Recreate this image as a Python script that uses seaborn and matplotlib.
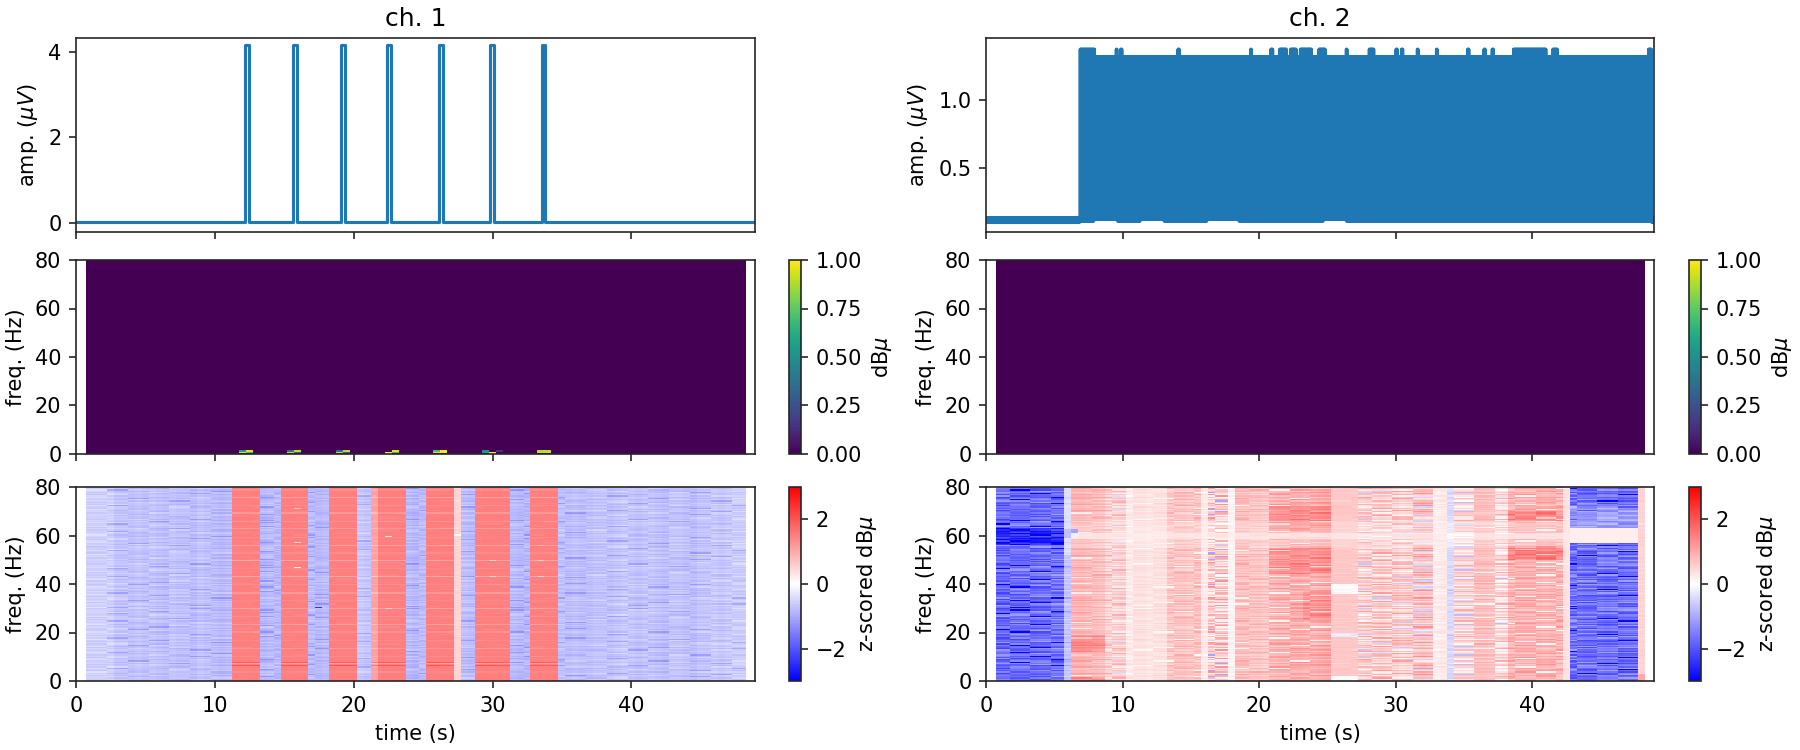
import numpy as np
import pandas as pd
import matplotlib
matplotlib.use("Agg")
import matplotlib.pyplot as plt
import seaborn as sns

channels = ["ch. 1", "ch. 2"]
x_ticks = [0, 10, 20, 30, 40]
freq_ticks = [0, 20, 40, 60, 80]
x_max = 48.9

# Spectrogram grid: 0.5 s bins from 0.73 s, 0.5 Hz rows from 0 to 80 Hz
bin_start = 0.73
bin_width = 0.5
n_bins = 95
row_hz = 0.5
n_rows = 160

# Channel 1 amplitude: pulse onsets and offsets in seconds
pulse_on = [12.17, 15.62, 19.11, 22.40, 26.17, 29.83, 33.54]
pulse_off = [12.43, 15.88, 19.37, 22.66, 26.43, 30.09, 33.80]
pulse_amp = 4.15
trace1_floor = 0.02

# Channel 2 amplitude: envelope and the stretches where it peaks higher
burst_start = 6.88
burst_end = 48.72
idle_low, idle_high = 0.095, 0.132
burst_low = 0.106
burst_high = 1.32
peak_high = 1.375
peak_on = [6.9, 9.52, 9.85, 14.05, 19.35, 20.85, 21.5, 22.3, 23.0, 24.35, 26.35,
           28.05, 30.0, 30.4, 31.55, 32.95, 35.25, 36.45, 37.05, 38.6, 41.5, 48.5]
peak_off = [7.96, 9.62, 9.95, 14.15, 19.45, 20.98, 22.0, 22.7, 23.85, 24.85, 26.45,
            28.4, 30.12, 30.52, 31.65, 33.05, 35.35, 36.55, 37.15, 41.0, 41.85, 48.72]
raised_on = [7.9, 11.3, 16.2, 24.7]
raised_off = [9.6, 13.0, 18.5, 26.4]
raised_low = 0.118

# Power in the low-frequency cells of channel 1 during each pulse
power_cols = [22, 22, 23, 23, 29, 29, 30, 30, 36, 36, 37, 37, 43, 43, 44, 44,
              50, 50, 51, 51, 57, 57, 58, 58, 59, 65, 65, 66, 66]
power_rows = [2, 1, 2, 1, 2, 1, 2, 1, 2, 1, 2, 1, 1, 0, 2, 1,
              2, 1, 2, 1, 2, 1, 1, 0, 2, 1, 2, 1, 2]
power_vals = [0.55, 0.95, 0.95, 0.7, 0.35, 0.9, 0.9, 0.3, 0.35, 0.9, 0.9, 0.3, 1.0, 1.0, 0.95, 0.7,
              0.7, 0.95, 1.0, 1.0, 0.5, 0.55, 1.0, 1.0, 0.15, 0.9, 0.9, 0.9, 0.9]

# Mean z-score of each time bin
ch1_level = [-0.55, -0.55, -0.55, -0.55, -0.7, -0.7, -0.75, -0.7, -0.75, -0.7, -0.75, -0.8,
             -0.7, -0.75, -0.75, -0.8, -0.7, -0.75, -0.8, -0.85, -0.8,
             1.5, 1.5, 1.5, 1.5, -0.85, -0.8, -0.85,
             1.5, 1.5, 1.5, 1.5, -0.8, -0.85, -0.8,
             1.5, 1.5, 1.5, 1.5, -0.65, -0.7,
             1.1, 1.5, 1.5, 1.5, 1.5, -0.8, -0.85, -0.8,
             1.5, 1.5, 1.5, 1.5, 0.5, -0.75, -0.8,
             1.5, 1.5, 1.5, 1.5, 1.5, -0.8, -0.85, -0.85,
             1.5, 1.5, 1.5, 1.5, -0.75, -0.8, -0.75, -0.8, -0.75, -0.7, -0.7, -0.75,
             -0.7, -0.65, -0.7, -0.75, -0.7, -0.7, -0.75, -0.8, -0.7, -0.7, -0.75, -0.8,
             -0.7, -0.7, -0.65, -0.7, -0.65, -0.6, -0.6]
ch1_noise = [0.3] * 21 + [0.06] * 4 + [0.3] * 3 + [0.06] * 4 + [0.3] * 3 + [0.06] * 4 + [0.28] * 2 \
    + [0.06] * 5 + [0.3] * 3 + [0.06] * 4 + [0.06] + [0.3] * 2 + [0.06] * 5 + [0.3] * 3 + [0.06] * 4 \
    + [0.3] * 27
ch2_level = [-1.8, -1.8, -1.75, -1.75, -1.75, -1.75, -1.7, -1.7, -1.7, -1.7,
             -0.7, 0.85, 0.85, 0.8, 0.8, 0.75, 0.55, 0.5, 0.55, 0.25,
             0.35, 0.35, 0.3, 0.35, 0.35, 0.65, 0.7, 0.7, 0.65, 0.7, 0.25,
             0.5, 0.5, 0.5, 0.15, 0.75, 0.75, 0.7, 0.7, 0.65,
             0.85, 0.9, 0.9, 0.95, 0.95, 0.9, 0.9, 0.95, 1.0, 0.65, 0.65, 0.65, 0.65,
             0.5, 0.55, 0.55, 0.6, 0.55, 0.6, 0.5, 0.55, 0.65, 0.7, 0.65,
             0.2, 0.25, -0.45, 0.4, 0.4, 0.4, 0.75, 0.75, 0.7, 0.35, 0.4,
             0.85, 0.9, 0.9, 0.9, 0.9, 0.85, 0.9, 0.85, 0.35,
             -1.7, -1.7, -1.75, -1.75, -1.7, -1.75, -1.7, -1.75, -1.7, -1.7, 0.5]
ch2_noise = [0.85] * 10 + [0.3] + [0.45] * 5 + [0.65] * 3 + [0.2] + [0.18] * 5 + [0.45] * 5 + [0.12] \
    + [1.1] * 3 + [0.12] + [0.45] * 5 + [0.55] * 9 + [0.1] * 4 + [0.85] * 11 + [0.2] * 2 + [0.25] \
    + [0.85] * 3 + [0.45] * 3 + [0.85] * 2 + [0.55] * 8 + [0.1] + [0.85] * 10 + [0.1]

# Rows that stay lighter or darker through every pulse of channel 1
harmonic_hz = [6.8, 13.2, 19.8, 23.0, 29.6, 36.2, 42.8, 49.3, 55.7, 62.3, 68.8, 75.5]
harmonic_dip = [-0.4, -0.3, -0.2, -0.35, -0.4, -0.3, -0.45, -0.45, -0.35, -0.3, -0.3, -0.35]
half_harmonic_hz = [3.4, 10.0, 16.5, 26.3, 33.0, 39.5, 46.0, 52.5, 59.0, 65.5, 72.2, 78.5]
half_harmonic_dip = [-0.1, -0.12, -0.12, -0.15, -0.1, -0.15, -0.12, -0.15, -0.12, -0.2, -0.15, -0.15]

# Single bright or dark cells of channel 1
spot_col = [30, 30, 30, 43, 43, 58, 58, 65, 65, 65, 53, 33]
spot_hz = [46.5, 57.0, 71.0, 59.5, 29.6, 42.8, 49.3, 49.3, 42.8, 55.7, 60.0, 30.0]
spot_val = [0.1, 0.6, 0.8, 0.3, 0.5, 0.5, 0.5, 0.5, 0.5, 0.8, 0.0, -2.4]

# Time-frequency regions of channel 2 that depart from the bin mean
patch_t0 = [6.23, 20.73, 20.73, 23.0, 38.23, 38.23, 25.23, 25.23, 25.23, 6.23, 47.73,
            0.73, 5.73, 5.73, 42.73, 42.73, 6.23, 6.23]
patch_t1 = [8.73, 25.23, 25.23, 25.23, 42.23, 42.23, 27.23, 27.23, 27.23, 8.73, 48.23,
            5.73, 6.73, 6.23, 47.73, 47.73, 42.73, 42.73]
patch_f0 = [12.0, 62.0, 44.0, 25.0, 50.0, 66.0, 18.0, 36.0, 0.0, 0.0, 0.0,
            56.0, 59.0, 52.0, 57.0, 63.0, 55.0, 58.5]
patch_f1 = [19.0, 72.0, 55.0, 37.0, 55.5, 70.0, 20.0, 40.0, 2.0, 1.5, 3.0,
            63.0, 62.5, 80.0, 63.0, 72.0, 66.0, 61.0]
patch_scale = [1.0, 1.0, 1.0, 1.0, 1.0, 1.0, 1.0, 1.0, 1.0, 1.0, 1.0,
               1.0, 0.0, 0.4, 0.0, 0.7, 0.7, 0.3]
patch_shift = [0.5, 0.4, 0.35, 0.3, 0.55, 0.5, -0.9, -0.6, -0.7, 0.5, 0.5,
               -0.85, -1.6, -0.1, 0.2, 0.0, 0.05, 0.15]

# Streak pattern, one digit per cell: 0 is a deep dip and 9 a bright streak
streak_rows = [
    "453627481536270459364725",
    "364518273946152637485162",
    "527463916284735146952738",
    "681345720564918327465193",
    "235978146372569148273650",
    "746152839405627381954267",
    "418367295173846502716349",
    "952746138627490365182574",
    "163584972354168729436815",
    "374691520826357914065283",
    "805273649137582646917342",
    "296418735964203187358469",
    "547832169275846391724106",
    "138965427406719258643975",
    "672304856913465720198563",
    "419786253648127395570824",
    "350627491582936146238719",
    "864159370216478963415207",
    "725843612937504268791346",
    "193567284461892537026478",
    "586320749175346912683054",
    "247916835308762145397621",
    "631485097562419873254986",
    "908752316744135629860135",
    "452169873926587034176248",
    "376840512185263947492673",
    "729513648340971586213895",
    "164297305872654418936027",
    "813675942506128793645132",
    "540938167263495127870569",
    "297164583719340652418376",
    "685423079851276346593208",
    "132796854465908231746985",
    "476051392687543912064753",
    "958327146320769485231864",
    "304682975154832679518420",
    "761549230896417352963657",
    "215873469043695728146392",
    "648290517372156840729513",
    "593416782628304195387246",
    "827134650985762431650178",
    "346958271413589067842935",
    "170625943756241398506724",
    "492783106369875214673180",
    "635017829241360957184563",
    "258496370578124693925847",
    "914362587806753421368092",
    "763258941437096285741316",
    "381749605125487632859470",
    "506821374698213974036258",
    "247395168354760819462793",
    "689104723976358240517634",
    "153672849280941763325986",
    "872546310643175892694021",
    "425981736507628134789365",
    "306714295861342579108647",
    "794263850132597486253819",
    "518039647274860351476902",
    "643875120695213748930256",
    "269140583748956027815473",
]

# z-score offset for each streak digit
streak_offset = [-1.4, -0.5, -0.32, -0.18, -0.06, 0.06, 0.18, 0.3, 0.45, 0.7]

sns.set_theme(style="ticks", rc={
    "axes.linewidth": 0.8, "xtick.major.width": 0.8, "ytick.major.width": 0.8,
    "xtick.major.size": 3.5, "ytick.major.size": 3.5,
    "xtick.labelsize": 10, "ytick.labelsize": 10, "axes.labelsize": 10,
    "axes.titlesize": 12, "text.color": "black", "axes.labelcolor": "black",
    "xtick.labelcolor": "black", "ytick.labelcolor": "black",
})
plt.rcParams["font.family"] = ["DejaVu Sans"]
plt.rcParams["mathtext.fontset"] = "dejavusans"


def streak_grid():
    # Repeat the digit pattern over the whole grid, shifting each repeat so it does not line up
    digits = np.array([[int(c) for c in row] for row in streak_rows])
    offsets = np.array(streak_offset)[digits]
    h, w = offsets.shape
    grid = np.zeros((n_rows, n_bins))
    for col in range(n_bins):
        tile = col // (3 * w)
        for row in range(n_rows):
            grid[row, col] = offsets[(row + 17 * tile + row // h * 23) % h, (col // 3) % w]
    return grid


def hz_row(hz):
    return int(round(hz / row_hz))


def time_col(t):
    return int(round((t - bin_start) / bin_width))


def channel1_z():
    z = np.array(ch1_level) + np.array(ch1_noise) * streak_grid()
    red = np.array(ch1_level) > 1.0
    for hz, dip in zip(harmonic_hz, harmonic_dip):
        z[hz_row(hz), red] += dip
    for hz, dip in zip(half_harmonic_hz, half_harmonic_dip):
        z[hz_row(hz), red] += dip
    z[hz_row(6.0), red] += 0.5
    z[hz_row(7.4), red] += 0.4
    for col, hz, val in zip(spot_col, spot_hz, spot_val):
        z[hz_row(hz), col] = val
    return z


def channel2_z():
    z = np.array(ch2_level) + np.array(ch2_noise) * np.roll(streak_grid(), 37, axis=1)
    patches = zip(patch_t0, patch_t1, patch_f0, patch_f1, patch_scale, patch_shift)
    for t0, t1, f0, f1, scale, shift in patches:
        rows = slice(hz_row(f0), hz_row(f1))
        cols = slice(time_col(t0), time_col(t1))
        z[rows, cols] = z[rows, cols] * scale + shift
    return z


def power_grid():
    grid = np.zeros((n_rows, n_bins))
    grid[power_rows, power_cols] = power_vals
    return grid


def trace1():
    t, y = [0.0], [trace1_floor]
    for on, off in zip(pulse_on, pulse_off):
        t += [on, on, off, off]
        y += [trace1_floor, pulse_amp, pulse_amp, trace1_floor]
    t.append(x_max)
    y.append(trace1_floor)
    return pd.DataFrame({"time": t, "amp": y})


def trace2():
    # Oscillation too fast to resolve: drawn as a dense swing between the two envelopes
    t = np.arange(0, x_max, 0.02)
    active = (t >= burst_start) & (t <= burst_end)
    high = np.where(active, burst_high, idle_high)
    low = np.where(active, burst_low, idle_low)
    for on, off in zip(peak_on, peak_off):
        high[(t >= on) & (t <= off)] = peak_high
    for on, off in zip(raised_on, raised_off):
        low[(t >= on) & (t <= off)] = raised_low
    y = np.where(np.arange(t.size) % 2 == 0, low, high)
    return pd.DataFrame({"time": t, "amp": y})


def style_map_axes(ax, show_x):
    # The heatmap axes count cells, so ticks and limits are converted from seconds and Hz
    ax.set_xlim((0 - bin_start) / bin_width, (x_max - bin_start) / bin_width)
    ax.set_ylim(0, n_rows)
    ax.set_xticks([(t - bin_start) / bin_width for t in x_ticks])
    ax.set_xticklabels(x_ticks if show_x else [], rotation=0)
    ax.set_yticks([f / row_hz for f in freq_ticks])
    ax.set_yticklabels(freq_ticks, rotation=0)
    ax.tick_params(left=True, bottom=True, length=3.5, width=0.8)
    ax.set_ylabel("freq. (Hz)")
    ax.set_xlabel("time (s)" if show_x else "")
    for spine in ax.spines.values():
        spine.set_visible(True)
        spine.set_linewidth(0.8)


W, H = 1800, 750
fig = plt.figure(figsize=(12, 5), dpi=150)


def place(left, top, right, bottom):
    return fig.add_axes([left / W, 1 - bottom / H, (right - left) / W, (bottom - top) / H])


col_x = [(76, 755, 789, 801), (986, 1654, 1689, 1701)]
row_y = [(38, 232), (260, 454), (487, 681)]
z_maps = [channel1_z(), channel2_z()]
power_maps = [power_grid(), np.zeros((n_rows, n_bins))]
traces = [trace1(), trace2()]
amp_ticks = [[0, 2, 4], [0.5, 1.0]]
amp_labels = [["0", "2", "4"], ["0.5", "1.0"]]
amp_limits = [(-0.215, 4.32), (0.025, 1.458)]

for i, name in enumerate(channels):
    x0, x1, c0, c1 = col_x[i]

    ax = place(x0, row_y[0][0], x1, row_y[0][1])
    sns.lineplot(data=traces[i], x="time", y="amp", ax=ax, estimator=None, sort=False,
                 color="#1f77b4", lw=1.5)
    ax.set_xlim(0, x_max)
    ax.set_ylim(*amp_limits[i])
    ax.set_xticks(x_ticks)
    ax.set_xticklabels([])
    ax.set_yticks(amp_ticks[i])
    ax.set_yticklabels(amp_labels[i])
    ax.set_xlabel("")
    ax.set_ylabel(r"amp. ($\mu V$)")
    ax.set_title(name, pad=6)

    ax = place(x0, row_y[1][0], x1, row_y[1][1])
    cax = place(c0, row_y[1][0], c1, row_y[1][1])
    sns.heatmap(pd.DataFrame(power_maps[i]), ax=ax, cbar_ax=cax, cmap="viridis", vmin=0, vmax=1,
                xticklabels=False, yticklabels=False)
    style_map_axes(ax, False)
    cax.set_yticks([0, 0.25, 0.5, 0.75, 1.0])
    cax.set_yticklabels(["0.00", "0.25", "0.50", "0.75", "1.00"])
    cax.set_ylabel(r"dB$\mu$")
    cax.tick_params(length=3.5, width=0.8)
    ax.collections[0].colorbar.outline.set_linewidth(0.8)
    ax.collections[0].colorbar.outline.set_visible(True)

    ax = place(x0, row_y[2][0], x1, row_y[2][1])
    cax = place(c0, row_y[2][0], c1, row_y[2][1])
    sns.heatmap(pd.DataFrame(z_maps[i]), ax=ax, cbar_ax=cax, cmap="bwr", vmin=-3, vmax=3,
                xticklabels=False, yticklabels=False)
    style_map_axes(ax, True)
    cax.set_yticks([-2, 0, 2])
    cax.set_yticklabels(["\u22122", "0", "2"])
    cax.set_ylabel(r"z-scored dB$\mu$")
    cax.tick_params(length=3.5, width=0.8)
    ax.collections[0].colorbar.outline.set_linewidth(0.8)
    ax.collections[0].colorbar.outline.set_visible(True)

fig.savefig("out.png", dpi=150, facecolor="white")
